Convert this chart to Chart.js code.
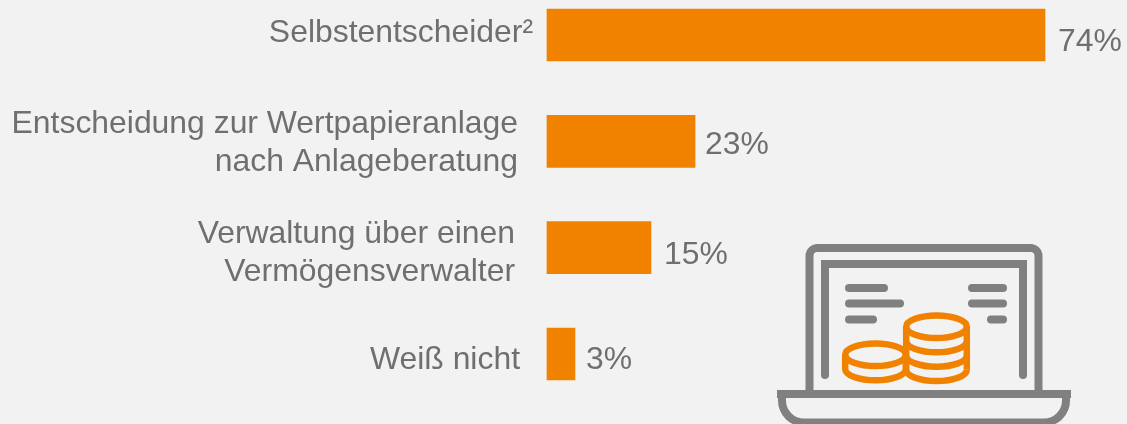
<!DOCTYPE html>
<html lang="de">
<head>
<meta charset="utf-8">
<title>Selbstentscheider</title>
<style>
  html, body { margin: 0; padding: 0; background: #f2f2f2; }
  canvas { display: block; }
</style>
<script src="https://cdn.jsdelivr.net/npm/chart.js@4"></script>
</head>
<body>
<canvas id="chart" width="1127" height="424"></canvas>
<script>
// Data
const categories = [
    ['Selbstentscheider²'],
    ['Entscheidung zur Wertpapieranlage', 'nach Anlageberatung'],
    ['Verwaltung über einen', 'Vermögensverwalter'],
    ['Weiß nicht']
];
// printed percentages
const valueLabels = ['74%', '23%', '15%', '3%'];
// bar lengths as drawn, they do not follow the printed numbers exactly
const barLengths = [74, 22, 15.45, 4.16];

const ORANGE = '#f18200';
const GREY = '#808080';
const TEXT = '#6f6f6f';
const FONT = '"Liberation Sans", Arial, sans-serif';

// Row by row nudges for the hand placed text boxes of the original
const labelRight = [533, 518, 515, 520];
const labelDy = [-2, 2, 5.5, 6];
const valueGap = [13, 10, 13, 11];
const valueDy = [7, 4, 8, 6];

const rowText = {
    id: 'rowText',
    afterDatasetsDraw(chart) {
        const { ctx, scales: { x, y } } = chart;
        ctx.save();
        ctx.fillStyle = TEXT;
        ctx.font = '31.9px ' + FONT;
        ctx.textBaseline = 'middle';
        categories.forEach((lines, i) => {
            const cy = y.getPixelForValue(i) + labelDy[i];
            ctx.textAlign = 'right';
            lines.forEach((line, j) => {
                ctx.fillText(line, labelRight[i], cy + (j - (lines.length - 1) / 2) * 38);
            });
            ctx.textAlign = 'left';
            ctx.fillText(valueLabels[i], x.getPixelForValue(barLengths[i]) + valueGap[i], y.getPixelForValue(i) + valueDy[i]);
        });
        ctx.restore();
    }
};

// Laptop with coins, decoration only
const laptopIcon = {
    id: 'laptopIcon',
    afterDraw(chart) {
        const ctx = chart.ctx;
        ctx.save();
        ctx.strokeStyle = GREY;
        ctx.lineWidth = 8;

        // lid
        ctx.beginPath();
        ctx.moveTo(809.5, 394);
        ctx.lineTo(809.5, 256);
        ctx.arcTo(809.5, 248, 817.5, 248, 8);
        ctx.lineTo(1030.5, 248);
        ctx.arcTo(1038.5, 248, 1038.5, 256, 8);
        ctx.lineTo(1038.5, 394);
        ctx.stroke();

        // screen
        ctx.lineCap = 'round';
        ctx.beginPath();
        ctx.moveTo(825, 375);
        ctx.lineTo(825, 264);
        ctx.lineTo(1023, 264);
        ctx.lineTo(1023, 375);
        ctx.stroke();

        // base
        ctx.lineCap = 'butt';
        ctx.beginPath();
        ctx.moveTo(777, 394);
        ctx.lineTo(1071, 394);
        ctx.moveTo(782, 390);
        ctx.lineTo(782, 400);
        ctx.arcTo(782, 422.5, 804, 422.5, 22);
        ctx.lineTo(1044, 422.5);
        ctx.arcTo(1066, 422.5, 1066, 400, 22);
        ctx.lineTo(1066, 390);
        ctx.stroke();

        // text lines on the screen
        ctx.lineCap = 'round';
        [[849, 884, 288], [849, 900, 303.5], [849, 873, 319.5],
         [972, 1003, 288], [972, 1003, 303.5], [991, 1003, 319.5]].forEach(([a, b, ly]) => {
            ctx.beginPath();
            ctx.moveTo(a, ly);
            ctx.lineTo(b, ly);
            ctx.stroke();
        });

        // coins
        ctx.strokeStyle = ORANGE;
        ctx.lineWidth = 6.5;
        ctx.lineCap = 'butt';
        const stack = (cx, tops) => {
            const rx = 30.3, ry = 11.3;
            const first = tops[0], last = tops[tops.length - 1];
            ctx.beginPath();
            ctx.ellipse(cx, first, rx, ry, 0, 0, Math.PI * 2);
            ctx.stroke();
            tops.slice(1).forEach(cy => {
                ctx.beginPath();
                ctx.ellipse(cx, cy, rx, ry, 0, 0, Math.PI);
                ctx.stroke();
            });
            ctx.beginPath();
            ctx.moveTo(cx - rx, first);
            ctx.lineTo(cx - rx, last);
            ctx.moveTo(cx + rx, first);
            ctx.lineTo(cx + rx, last);
            ctx.stroke();
        };
        stack(875.5, [354.7, 369]);
        stack(936.5, [326.7, 341, 355.4, 369.7]);
        ctx.restore();
    }
};

new Chart(document.getElementById('chart'), {
    type: 'bar',
    data: {
        labels: categories.map(c => c.join(' ')),
        datasets: [{
            data: barLengths,
            backgroundColor: ORANGE,
            barThickness: 52,
            clip: false
        }]
    },
    options: {
        indexAxis: 'y',
        responsive: false,
        animation: false,
        layout: { padding: { left: 547, right: 82, top: 35, bottom: 70 } },
        plugins: {
            legend: { display: false },
            tooltip: { enabled: false }
        },
        scales: {
            x: { display: false, min: 0, max: 74 },
            y: { display: false, offset: false }
        }
    },
    plugins: [rowText, laptopIcon]
});
</script>
</body>
</html>
